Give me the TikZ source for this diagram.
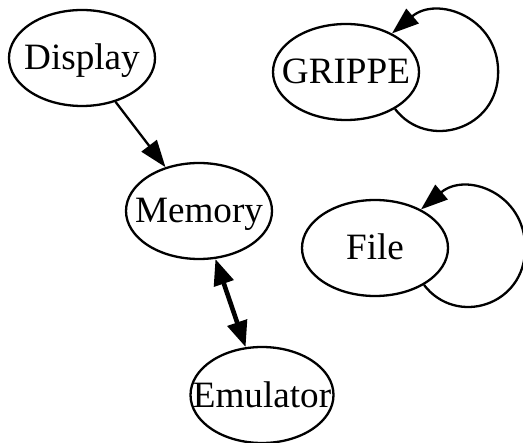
\documentclass[tikz,border=0pt]{standalone}
\usepackage{fontspec}
\setmainfont{Liberation Serif}
\usetikzlibrary{arrows.meta,shapes.geometric}
\newcommand{\zw}[1]{\makebox[0pt]{#1}}
\begin{document}
\begin{tikzpicture}[x=1bp,y=-1bp,
  gnode/.style={draw, ellipse, line width=2.3bp, inner sep=0pt,
    minimum width=146bp, minimum height=96bp, text height=30bp, text depth=6bp,
    font=\fontsize{37.3}{40}\selectfont},
  gedge/.style={line width=2.3bp, -{Triangle[length=27bp,width=19bp]}},
  gboth/.style={line width=4.6bp, {Triangle[length=26bp,width=20bp]}-{Triangle[length=26bp,width=20bp]}}]
\useasboundingbox (0,0) rectangle (523,443);
\node[gnode] (D) at (82,58) {\zw{Display}};
\node[gnode] (M) at (199,211) {\zw{Memory}};
\node[gnode, minimum width=143bp] (E) at (262,395) {\zw{Emulator}};
\node[gnode] (G) at (346,72) {\zw{GRIPPE}};
\node[gnode] (F) at (375,248) {\zw{File}};
\draw[gedge] (D) -- (M);
\draw[gboth] (M) -- (E);
\draw[gedge] (G.-37) .. controls +(32,42) and +(0,58) .. ([xshift=78bp]G.east)
  .. controls +(0,-55) and +(45,-38) .. (G.40);
\draw[gedge] (F.-37) .. controls +(32,42) and +(0,58) .. ([xshift=76bp]F.east)
  .. controls +(0,-55) and +(45,-38) .. (F.40);
\end{tikzpicture}
\end{document}
